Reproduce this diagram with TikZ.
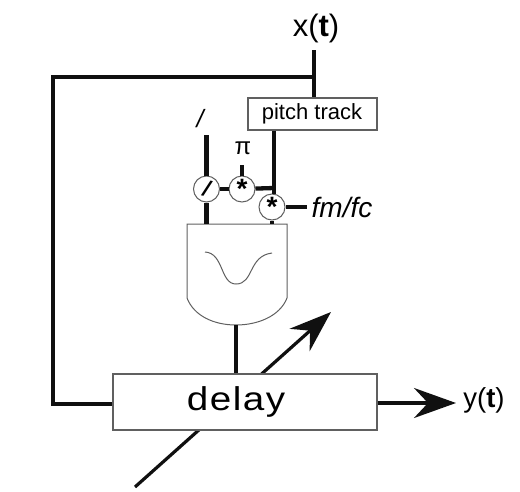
\documentclass[tikz,border=0pt]{standalone}
\usepackage{fontspec}
\setmainfont{Liberation Sans}
\newfontfamily\delayfont[LetterSpace=4]{Liberation Sans}
\usetikzlibrary{arrows.meta,backgrounds}
\definecolor{DGray}{HTML}{606060}
\definecolor{Wire}{HTML}{101010}
\tikzset{
    blockbox/.style={draw=DGray, line width=1.3pt, fill=white, inner sep=0pt},
    opcircle/.style={circle, draw=DGray, line width=1pt, fill=white, inner sep=0pt, minimum size=26pt},
    wirethick/.style={Wire, line width=4.3pt},
    wirethin/.style={Wire, line width=3.2pt},
    bigtip/.style={-{Stealth[length=42pt, width=30pt, inset=14pt]}},
}
\newcommand{\Fs}[1]{\fontsize{#1}{#1}\selectfont}

\begin{document}
\begin{tikzpicture}[x=1pt, y=-1pt]
\useasboundingbox (0,0) rectangle (520,491);

\node[blockbox, minimum width=264pt, minimum height=56pt] (delay) at (245,402) {\hspace*{-18pt}\raisebox{-3pt}{\scalebox{1.17}[1]{\delayfont\Fs{33}delay}}};
\node[blockbox, minimum width=129pt, minimum height=32pt] (pitch) at (312.5,114) {\hspace*{-1pt}\Fs{22}pitch track};

\node[opcircle] (div) at (206.5,189) {\rotatebox{-12}{\bfseries\itshape\Fs{22}/}};
\node[opcircle] (mulpi) at (242,189) {\raisebox{-12pt}{\bfseries\Fs{28}*}};
\node[opcircle] (mulfm) at (272,207) {\raisebox{-12pt}{\bfseries\Fs{28}*}};

\node (xt) at (316,28) {\Fs{31}x(\textbf{t})};
\node (yt) at (484,400) {\Fs{27.5}y(\textbf{t})};
\node (one) at (200,119) {\itshape\Fs{25}/};
\node (pi) at (243,148) {\Fs{24}π};
\node (ratio) at (342,207) {\itshape\Fs{28}fm/fc};

\coordinate (xin) at (314,50);
\coordinate (tap) at (314,77);
\coordinate (cornertop) at (53,77);
\coordinate (cornerbot) at (53,404);
\coordinate (onewire) at (206.5,135);
\coordinate (piwire) at (242,165);
\coordinate (fmwire) at (307,207);
\coordinate (bend) at (274,188);
\coordinate (gate-a) at (207,224);
\coordinate (gate-b) at (273,224);
\coordinate (gate-out) at (236,325);
\coordinate (tilt-start) at (135,487);
\coordinate (tilt-end) at (331,312);
\coordinate (out-end) at (456,403);

% window function
\draw[DGray, line width=1pt, fill=white] (187,224) -- (287,224) -- (287,298)
    .. controls (280,316) and (258,325) .. (gate-out)
    .. controls (214,325) and (194,316) .. (187,298) -- cycle;
\draw[DGray, line width=1pt] (205,252) .. controls (224,253) and (220,284) .. (236,284)
    .. controls (254,284) and (248,256) .. (272,253);

\draw[wirethick] (xin) -- (pitch.north -| xin);
\draw[wirethick, line join=miter] (tap) -- (cornertop) -- (cornerbot) -- (delay.west |- cornerbot);
\draw[wirethick] (onewire) -- (div);
\draw[wirethick] (div) -- (div |- gate-a);
\draw[wirethick] (piwire) -- (mulpi);
\draw[wirethick] (div) -- (mulpi);
\draw[wirethick] (mulpi) -- (bend);
\draw[wirethick] (pitch.south -| bend) -- (mulfm.north -| bend);
\draw[wirethin] (mulfm) -- (fmwire);
\draw[wirethin] (mulfm) -- (mulfm |- gate-b);
\draw[wirethin] (gate-out) -- (delay.north -| gate-out);
\draw[wirethin, bigtip] (delay.east |- out-end) -- (out-end);

\begin{scope}[on background layer]
    \draw[wirethin, bigtip] (tilt-start) -- (tilt-end);
\end{scope}

\end{tikzpicture}
\end{document}
